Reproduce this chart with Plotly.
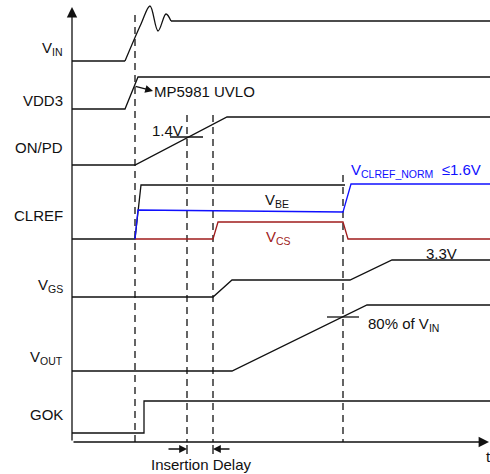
import plotly.graph_objects as go

# ---- waveform data (time position, level position) ----
vin_t = [72, 125]
vin_y = [61, 61]
vin_ring_t = [125, 141, 150, 158, 166, 171]
vin_ring_y = [61, 24, 6, 31, 14, 21]
vin_settle_t = [171, 490]
vin_settle_y = [21, 21]

vdd3_t = [72, 125, 138, 490]
vdd3_y = [109, 109, 77, 77]

onpd_t = [72, 135, 227, 490]
onpd_y = [165, 165, 117, 117]

clref_t = [72, 135, 141, 345]
clref_y = [239, 239, 185, 185]

vbe_t = [135, 138, 343, 351, 490]
vbe_y = [239, 210, 212, 184, 184]

vcs_t = [135, 213, 218, 343, 348, 490]
vcs_y = [239, 239, 222, 222, 239, 239]

vgs_t = [72, 213, 232, 350, 392, 490]
vgs_y = [297, 297, 280, 280, 260, 260]

vout_t = [72, 232, 367, 490]
vout_y = [371, 371, 305, 305]

gok_t = [72, 144, 144, 490]
gok_y = [433, 433, 401, 401]

# event markers
event_t = [135, 187, 213, 343]
event_top = [15, 115, 115, 175]
axis_bottom = 442

row_labels = ["V<sub>IN</sub>", "VDD3", "ON/PD", "CLREF", "V<sub>GS</sub>", "V<sub>OUT</sub>", "GOK"]
row_label_y = [48, 100, 147, 215, 285, 357, 414]

FONT = "Liberation Sans, Arial, sans-serif"
BLACK = "#111111"
BLUE = "#1010ff"
RED = "#a01c1c"
LW = 1.3

fig = go.Figure()

def line(x, y, color=BLACK, shape="linear", dash="solid", width=LW):
    fig.add_trace(go.Scatter(x=x, y=y, mode="lines",
                             line=dict(color=color, width=width, shape=shape, dash=dash),
                             hoverinfo="skip", showlegend=False))

# dashed event lines
for t, top in zip(event_t, event_top):
    line([t, t], [top, axis_bottom], dash="7px,5px")

# waveforms
line(vin_t, vin_y)
line(vin_ring_t, vin_ring_y, shape="spline")
line(vin_settle_t, vin_settle_y)
line(vdd3_t, vdd3_y)
line(onpd_t, onpd_y)
line(clref_t, clref_y)
line(vcs_t, vcs_y, color=RED)
line(vbe_t, vbe_y, color=BLUE)
line(vgs_t, vgs_y)
line(vout_t, vout_y)
line(gok_t, gok_y)

# threshold ticks
line([170, 203], [137, 137])
line([327, 359], [317, 317])
# insertion-delay end bars
line([187, 187], [445, 454])
line([213, 213], [445, 454])

annotations = []

def arrow(x, y, ax, ay, size=1.0):
    annotations.append(dict(x=x, y=y, ax=ax, ay=ay, xref="x", yref="y", axref="x", ayref="y",
                            text="", showarrow=True, arrowhead=2, arrowsize=size,
                            arrowwidth=LW, arrowcolor=BLACK))

# axes
arrow(72, 7, 72, axis_bottom, 1.6)
arrow(489, axis_bottom, 72, axis_bottom, 1.6)
# UVLO arrow
arrow(153, 91, 134, 86, 1.2)
# insertion delay arrows
arrow(187, 449, 167, 449, 1.2)
arrow(213, 449, 231, 449, 1.2)

def text(x, y, s, color=BLACK, anchor="left", size=15):
    annotations.append(dict(x=x, y=y, xref="x", yref="y", text=s, showarrow=False,
                            xanchor=anchor, yanchor="middle",
                            font=dict(family=FONT, size=size, color=color)))

for lab, yy in zip(row_labels, row_label_y):
    text(65, yy, lab, anchor="right")

text(152, 91, "MP5981 UVLO")
text(150, 130, "1.4V")
text(263, 200, "V<sub>BE</sub>")
text(264, 237, "V<sub>CS</sub>", color=RED)
text(349, 170, "V<sub>CLREF_NORM</sub>  ≤1.6V", color=BLUE)
text(424, 253, "3.3V")
text(366, 324, "80% of V<sub>IN</sub>")
text(149, 464, "Insertion Delay")
text(484, 456, "t")

fig.update_layout(
    width=490, height=474,
    margin=dict(l=0, r=0, t=0, b=0),
    paper_bgcolor="white", plot_bgcolor="white",
    xaxis=dict(range=[0, 490], visible=False, fixedrange=True),
    yaxis=dict(range=[474, 0], visible=False, fixedrange=True),
    annotations=annotations,
    showlegend=False,
)

fig.write_html("out.html", config={"displayModeBar": False},
               post_script="document.body.style.margin='0';document.body.style.overflow='hidden';")
